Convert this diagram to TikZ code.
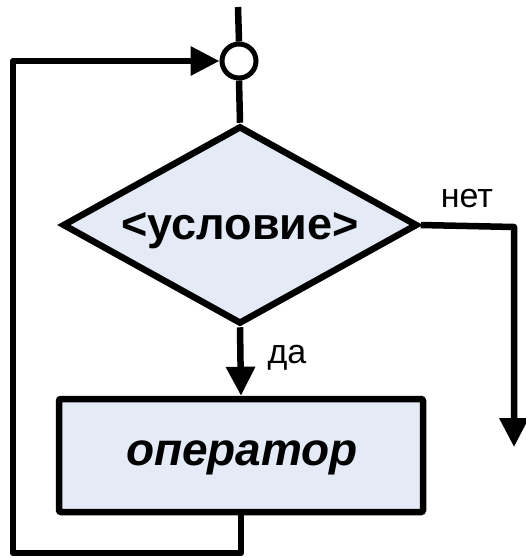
\documentclass[tikz,border=0pt]{standalone}
\usepackage{fontspec}
\setmainfont{Liberation Sans}
\usetikzlibrary{shapes.geometric,arrows.meta}
\definecolor{boxfill}{RGB}{228,234,246}
\tikzset{
  flow/.style={line width=6.5pt, line join=round},
  arr/.style={flow, -{Triangle[length=29pt,width=28pt]}},
  decision/.style={diamond, draw, line width=6.5pt, fill=boxfill, inner sep=0pt, aspect=1.79,
    minimum width=355pt, minimum height=198pt},
  dtext/.style={font=\fontsize{45}{50}\selectfont\bfseries, inner sep=0pt},
  process/.style={rectangle, draw, line width=6.5pt, fill=boxfill, rounded corners=2pt,
    minimum width=364pt, minimum height=113pt},
  ptext/.style={font=\fontsize{46}{52}\selectfont\bfseries\itshape, inner sep=0pt},
  joint/.style={circle, draw, line width=5pt, fill=white, minimum size=34pt, inner sep=0pt},
  lbl/.style={font=\fontsize{34}{40}\selectfont, inner sep=0pt}
}
\begin{document}
\begin{tikzpicture}[x=1pt,y=-1pt]
\useasboundingbox (0,0) rectangle (526,558);
\coordinate (top) at (238,7);
\node[joint] (c) at (239,61) {};
\node[decision] (d) at (240,225) {};
\node[dtext] (dt) at (240,231) {<условие>};
\node[process] (b) at (241,455.5) {};
\node[ptext] (bt) at (242,458) {оператор};
\coordinate (r1) at (514,227);
\coordinate (r2) at (514,447);
\coordinate (lb) at (13,553);
\coordinate (lt) at (13,61);
\draw[flow] (top) -- (c.north);
\draw[flow] (c.south) -- (d.north);
\draw[arr] (d.south) -- (b.north);
\draw[arr] (d.east) -- (r1) -- (r2);
\draw[arr] (b.south) |- (lb) -- (lt) -- (c.west);
\node[lbl] (no) at (467,199) {нет};
\node[lbl] (yes) at (287,358) {да};
\end{tikzpicture}
\end{document}
